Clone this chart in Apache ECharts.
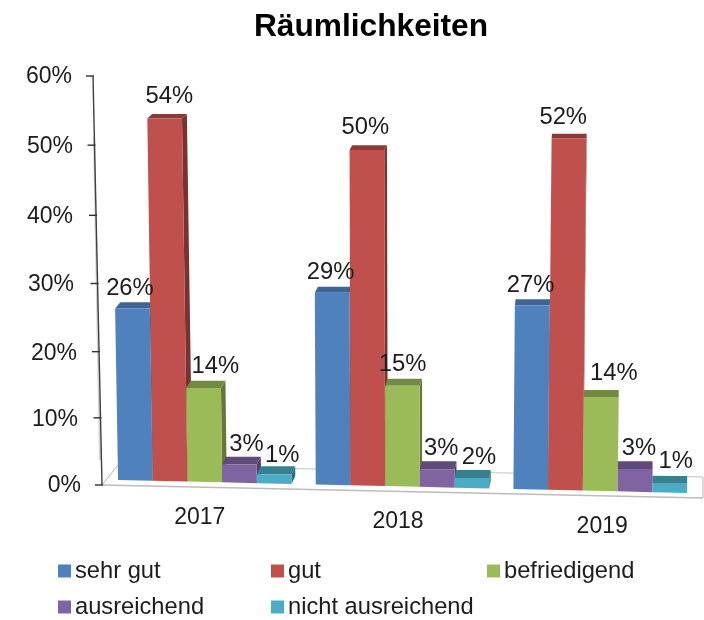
<!DOCTYPE html>
<html><head><meta charset="utf-8">
<script src="https://cdn.jsdelivr.net/npm/echarts@6/dist/echarts.min.js"></script>
<style>html,body{margin:0;padding:0;background:#fff}#c{width:704px;height:620px;filter:blur(0.45px)}</style>
</head><body><div id="c"></div>
<script>
var categories = ['2017','2018','2019'];
var seriesNames = ['sehr gut','gut','befriedigend','ausreichend','nicht ausreichend'];
var sehrGut = [25.6,28.6,27.4];
var gut = [54,50,52.4];
var befriedigend = [14,15,14];
var ausreichend = [2.7,2.7,3.4];
var nichtAusreichend = [1.4,1.5,1.3];
var yTicks = [0,10,20,30,40,50,60];
var allValues = [sehrGut,gut,befriedigend,ausreichend,nichtAusreichend];

var front = ['#4F81BD','#C0504D','#9BBB59','#8064A2','#4BACC6'];
var top_ = ['#3E6596','#8C3A38','#728A42','#5F4A7A','#37808F'];
var side = ['#345680','#7A3230','#63773A','#503E68','#2F6D7A'];
var labelShift = [[[-4,-20],[2,-22],[11,-22],[7,-20],[8,-19]],
                  [[-2,-20],[-2,-23],[0,-21],[4,-21],[7,-21]],
                  [[-1,-20],[-4,-21],[13,-24],[4,-21],[6,-22]]];
var tickNudge = {0:0,10:1,20:3,30:3,40:3,50:1,60:0};
var BAR_W = 34.7, FONT = 'Liberation Sans, Arial, sans-serif', TXT = '#1c1c1c';
var SLOPE = 0.0228, SCALE = 0.985;

function baseY(y0, x){ return y0 - 5 + (x - 119) * SLOPE; }
function lean(x){ return -0.11 + (x - 150) / 400 * 0.17; }
function depthX(x){ return Math.max(0, 4.5 * (620 - x) / 400); }
function depthY(v){ return 8 - 0.065 * v; }

function barRenderer(s){
  return function(params, api){
    var c = api.value(0), v = api.value(1);
    var center = api.coord([c, 0])[0], y0 = api.coord([c, 0])[1], yv = api.coord([c, v])[1];
    var xl = center - BAR_W * 2.5 + s * BAR_W, xr = xl + BAR_W;
    var bl = baseY(y0, xl), br = baseY(y0, xr);
    var h = (y0 - yv) * SCALE;
    var xm = (xl + xr) / 2, ym = (bl + br) / 2;
    var ln = lean(xm) * v, tl = [xl + ln, ym - h], tr = [xr + ln, ym - h];
    var dx = depthX(xr), dy = depthY(v);
    var sh = labelShift[c][s];
    return {type:'group', children:[
      {type:'polygon', shape:{points:[[xr,br],tr,[tr[0]+dx,tr[1]-dy],[xr+dx,br-dy]]}, style:{fill:side[s]}},
      {type:'polygon', shape:{points:[tl,tr,[tr[0]+dx,tr[1]-dy],[tl[0]+dx,tl[1]-dy]]}, style:{fill:top_[s]}},
      {type:'polygon', shape:{points:[[xl,bl],[xr,br],tr,tl]}, style:{fill:front[s]}},
      {type:'text', z2:100, style:{x:xm+ln/2+sh[0], y:ym-h+sh[1], text:Math.round(v)+'%', fill:TXT, font:'23.8px '+FONT, align:'center', verticalAlign:'middle'}}
    ]};
  };
}

function frameRenderer(params, api){
  var g = params.coordSys, L = g.x, R = g.x + g.width, y0 = api.coord([0,0])[1], yTop = api.coord([0,60])[1];
  var ax0 = L - 4;
  var line = function(a,b,col,w){ return {type:'line', shape:{x1:a[0],y1:a[1],x2:b[0],y2:b[1]}, style:{stroke:col,lineWidth:w}}; };
  var ch = [
    line([L+12,y0-20],[R+4,y0-8],'#c4c4c4',1.2),
    line([ax0,y0],[L+12,y0-20],'#c4c4c4',1.2),
    line([ax0,y0],[R+4,y0+13],'#bdbdbd',1.5),
    line([R+4,y0-8],[R+4,y0+13],'#c4c4c4',1.2),
    line([ax0-8,yTop+61],[ax0-2,y0-25],'#d4d4d4',2),
    line([ax0-9,yTop],[ax0,y0],'#404040',1.4)
  ];
  yTicks.forEach(function(t){
    var y = api.coord([0,t])[1] + tickNudge[t], x = ax0 - 9 * t / 60;
    ch.push(line([x-7,y],[x+1,y],'#303030',1.4));
  });
  return {type:'group', children:ch};
}

var series = [{type:'custom', name:'frame', silent:true, z:1, coordinateSystem:'cartesian2d', renderItem:frameRenderer, data:[[0,0]], encode:{x:0,y:1}, tooltip:{show:false}}];
seriesNames.forEach(function(n,s){
  series.push({type:'custom', name:n, z:2, coordinateSystem:'cartesian2d', renderItem:barRenderer(s),
    itemStyle:{color:front[s]}, encode:{x:0,y:1},
    data: allValues[s].map(function(v,c){return [c,v];})});
});

var legendPos = [[58,559],[271,559],[487,559],[58,595],[271,595]];
var legends = seriesNames.map(function(n,i){
  return {data:[{name:n, icon:'rect'}], left:legendPos[i][0], top:legendPos[i][1], itemWidth:13, itemHeight:13, itemGap:0, padding:0,
    selectedMode:false, textStyle:{fontFamily:FONT, fontSize:23.7, color:TXT, padding:[0,0,0,-1]}};
});

var yPad = {0:0,10:3,20:4,30:7,40:8,50:8,60:9};
var yTopPad = {0:2,10:6,20:10,30:8,40:8,50:4,60:2};
var yRich = {}; yTicks.forEach(function(t){ yRich['t'+t] = {fontFamily:FONT, fontSize:23, color:TXT, padding:[yTopPad[t],yPad[t],0,0]}; });
var xPad = [[1,10,0,0],[5,9,0,0],[10,0,0,4]];
var xRich = {}; categories.forEach(function(c,i){ xRich['c'+i] = {fontFamily:FONT, fontSize:23, color:TXT, padding:xPad[i], verticalAlign:'top'}; });

var chart = echarts.init(document.getElementById('c'), null, {renderer:'canvas'});
chart.setOption({
  animation:false,
  backgroundColor:'#fff',
  title:{text:'Räumlichkeiten', left:366, top:6, textAlign:'center', textStyle:{fontFamily:FONT, fontWeight:'bold', fontSize:31.7, color:'#000'}},
  legend:legends,
  grid:{left:106, width:593, top:76, height:409},
  xAxis:{type:'category', data:categories, axisLine:{show:false}, axisTick:{show:false}, splitLine:{show:false},
    axisLabel:{margin:20, interval:0, rich:xRich, formatter:function(v,i){return '{c'+i+'|'+v+'}';}}},
  yAxis:{type:'value', min:0, max:60, interval:10, axisLine:{show:false}, axisTick:{show:false}, splitLine:{show:false},
    axisLabel:{margin:25, rich:yRich, formatter:function(v){return '{t'+v+'|'+v+'%}';}}},
  series:series
});
</script></body></html>
